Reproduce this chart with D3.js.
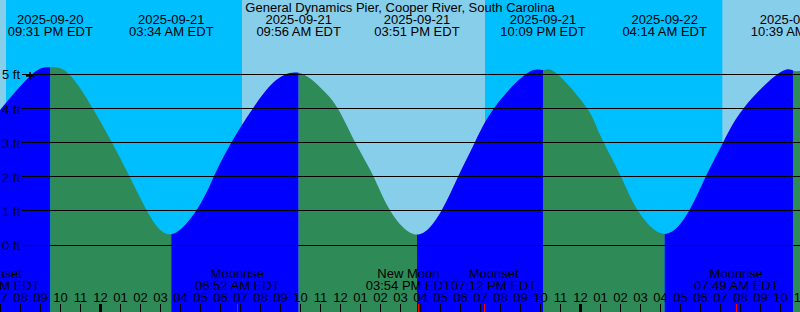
<!DOCTYPE html>
<html lang="en">
<head>
<meta charset="UTF-8">
<title>Tide graph</title>
<script src="https://d3js.org/d3.v7.min.js"></script>
<style>
  body { margin: 0; }
  svg { display: block; font-family: "Liberation Sans", Arial, sans-serif; font-size: 13px; }
</style>
</head>
<body>
<svg width="800" height="312"></svg>
<script>
const stationName = "General Dynamics Pier, Cooper River, South Carolina";
const zoneLabel = "EDT";
const timeSpan = ["2025-09-20 19:00", "2025-09-22 11:00"];

// high / low tides
const extremeTimes = ["2025-09-20 21:31", "2025-09-21 03:34", "2025-09-21 09:56", "2025-09-21 15:51",
                      "2025-09-21 22:09", "2025-09-22 04:14", "2025-09-22 10:39"];
const extremeHeights = [5.18, 0.30, 5.02, 0.29, 5.10, 0.31, 5.09];

// heights
const readingTimes = ["2025-09-20 19:00", "2025-09-20 20:39", "2025-09-20 22:25", "2025-09-20 23:37",
                      "2025-09-21 00:35", "2025-09-21 01:28", "2025-09-21 02:20", "2025-09-21 05:00",
                      "2025-09-21 05:42", "2025-09-21 06:35", "2025-09-21 07:40", "2025-09-21 08:45",
                      "2025-09-21 11:00", "2025-09-21 11:52", "2025-09-21 12:45", "2025-09-21 13:40",
                      "2025-09-21 14:30", "2025-09-21 17:05", "2025-09-21 17:55", "2025-09-21 18:45",
                      "2025-09-21 19:43", "2025-09-21 21:20", "2025-09-21 22:50", "2025-09-22 00:20",
                      "2025-09-22 01:00", "2025-09-22 02:02", "2025-09-22 02:53", "2025-09-22 05:28",
                      "2025-09-22 06:18", "2025-09-22 07:10", "2025-09-22 08:12", "2025-09-22 09:55",
                      "2025-09-22 11:00"];
const readingHeights = [3.93, 5.0, 5.0, 4.0,
                        3.0, 2.0, 1.0, 1.17,
                        2.0, 3.0, 4.0, 4.78,
                        4.6, 4.0, 3.0, 2.0,
                        1.0, 1.0, 2.0, 3.0,
                        4.0, 5.0, 5.0, 4.0,
                        3.21, 2.0, 1.0, 1.0,
                        2.0, 3.0, 4.0, 5.0,
                        5.07];

const sunriseTimes = ["2025-09-21 07:06", "2025-09-22 07:07"];
const sunsetTimes = ["2025-09-20 19:18", "2025-09-21 19:15"];

const moonNames = ["Moonset", "Moonrise", "New Moon", "Moonset", "Moonrise"];
const moonTimes = ["2025-09-20 18:51", "2025-09-21 06:52", "2025-09-21 15:54", "2025-09-21 19:12", "2025-09-22 07:49"];

const nowTime = "2025-09-20 20:30";
const nowHeight = 4.93;

const heightTicks = [0, 1, 2, 3, 4, 5];

const svg = d3.select("svg"),
    width = +svg.attr("width"),
    height = +svg.attr("height");

const parse = d3.timeParse("%Y-%m-%d %H:%M");
const fmtDate = d3.timeFormat("%Y-%m-%d");
const fmtTime = d => d3.timeFormat("%I:%M %p")(d) + " " + zoneLabel;

const x = d3.scaleTime().domain(timeSpan.map(parse)).range([0, width]);
const y = d3.scaleLinear().domain([0, 5]).range([244.5, 73.5]);

const extremes = extremeTimes.map((t, i) => ({ t: parse(t), h: extremeHeights[i] }));
const points = extremes.concat(readingTimes.map((t, i) => ({ t: parse(t), h: readingHeights[i] })))
    .sort((a, b) => a.t - b.t);

// night sky, then daylight bands
svg.append("rect").attr("width", width).attr("height", height).attr("fill", "#00bfff");

const sunEvents = sunriseTimes.map(t => ({ t: parse(t), up: true }))
    .concat(sunsetTimes.map(t => ({ t: parse(t), up: false })))
    .sort((a, b) => a.t - b.t);
const dayBands = [];
let dayStart = sunEvents[0].up ? null : x.domain()[0];
sunEvents.forEach(e => {
    if (e.up) dayStart = e.t;
    else if (dayStart) { dayBands.push([dayStart, e.t]); dayStart = null; }
});
if (dayStart) dayBands.push([dayStart, x.domain()[1]]);

svg.append("g").selectAll("rect")
    .data(dayBands)
    .enter().append("rect")
    .attr("x", d => x(d[0]))
    .attr("width", d => x(d[1]) - x(d[0]))
    .attr("height", height)
    .attr("fill", "#87ceeb");

// tide area, coloured rising / falling
const area = d3.area()
    .x(d => x(d.t))
    .y0(height)
    .y1(d => y(d.h))
    .curve(d3.curveNatural);

svg.append("clipPath").attr("id", "tide")
    .append("path").attr("d", area(points));

const bounds = [x.domain()[0]].concat(extremes.map(e => e.t), [x.domain()[1]]);
const segments = d3.pairs(bounds).map((p, i) => ({
    from: p[0], to: p[1],
    rising: i < extremes.length ? extremes[i].h > 2.5 : extremes[i - 1].h < 2.5
}));

svg.append("g").attr("clip-path", "url(#tide)")
    .selectAll("rect")
    .data(segments)
    .enter().append("rect")
    .attr("x", d => x(d.from))
    .attr("width", d => x(d.to) - x(d.from))
    .attr("height", height)
    .attr("fill", d => d.rising ? "#0000ff" : "#2e8b57");

// height grid
const yAxis = svg.append("g")
    .attr("transform", `translate(${width},0)`)
    .call(d3.axisLeft(y).tickValues(heightTicks).tickSize(width - 22).tickPadding(2)
        .tickFormat(d => d + " ft"));
yAxis.select(".domain").remove();
yAxis.selectAll("line").attr("stroke", "#000").attr("shape-rendering", "crispEdges");
yAxis.selectAll("text").attr("fill", "#000").attr("dy", "0.42em")
    .style("font", "13px 'Liberation Sans', Arial, sans-serif");

// current time marker
const nx = x(parse(nowTime)), ny = y(nowHeight);
svg.append("path")
    .attr("d", `M${nx - 4},${ny}H${nx + 4}M${nx},${ny - 4}V${ny + 4}`)
    .attr("stroke", "#000").attr("stroke-width", 1.6);

// title and tide times
svg.append("text").attr("x", width / 2).attr("y", 12)
    .attr("text-anchor", "middle").text(stationName);

const tideLabels = svg.append("g").selectAll("g")
    .data(extremes)
    .enter().append("g")
    .attr("text-anchor", "middle");
tideLabels.append("text").attr("x", d => x(d.t)).attr("y", 24).text(d => fmtDate(d.t));
tideLabels.append("text").attr("x", d => x(d.t)).attr("y", 36).text(d => fmtTime(d.t));

// moon events along the bottom
const moon = moonTimes.map((t, i) => ({ t: parse(t), name: moonNames[i] }));
const moonG = svg.append("g").attr("text-anchor", "middle");
const moonLabels = moonG.selectAll("g")
    .data(moon)
    .enter().append("g");
moonLabels.append("text").attr("y", 277.5).text(d => d.name);
moonLabels.append("text").attr("class", "when").attr("y", 290).text(d => fmtTime(d.t));

moonLabels.each(function(d) {
    d.cx = x(d.t);
    d.w = d3.select(this).select(".when").node().getComputedTextLength();
});
for (let i = 1; i < moon.length; i++) {
    const a = moon[i - 1], b = moon[i];
    const overlap = (a.cx + a.w / 2) - (b.cx - b.w / 2);
    if (overlap > 0) { a.cx -= overlap / 2; b.cx += overlap / 2; }
}
moonLabels.selectAll("text").attr("x", function() { return d3.select(this.parentNode).datum().cx; });

// hour axis
const hourAxis = svg.append("g")
    .attr("transform", `translate(0,${height})`)
    .call(d3.axisTop(x).ticks(d3.timeHour.every(1)).tickSize(8).tickPadding(2)
        .tickFormat(d3.timeFormat("%I")));
hourAxis.select(".domain").remove();
hourAxis.selectAll(".tick").attr("transform", d => `translate(${Math.round(x(d)) + 0.5},0)`);
hourAxis.selectAll("line").attr("stroke", "#000")
    .attr("stroke-width", d => d.getHours() === 0 ? 3 : 1);
hourAxis.selectAll("text").attr("fill", "#000")
    .style("font", "13px 'Liberation Sans', Arial, sans-serif");

svg.append("g").selectAll("line")
    .data(moon)
    .enter().append("line")
    .attr("x1", d => Math.round(x(d.t)) + 0.5)
    .attr("x2", d => Math.round(x(d.t)) + 0.5)
    .attr("y1", height - 8)
    .attr("y2", height)
    .attr("stroke", "#ff0000");
</script>
</body>
</html>
